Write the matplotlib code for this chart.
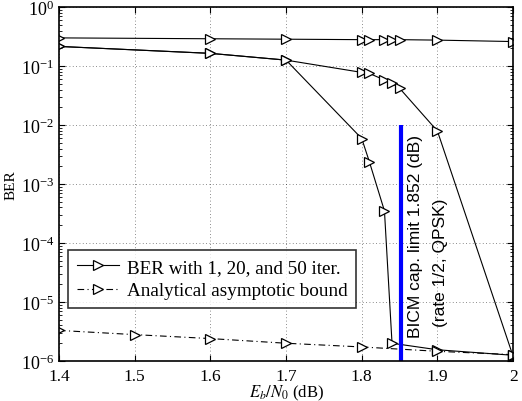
import matplotlib
matplotlib.use("Agg")
import matplotlib.pyplot as plt
from matplotlib.ticker import LogLocator, NullFormatter

# Data
x_iter1 = [1.4, 1.6, 1.7, 1.8, 1.81, 1.83, 1.84, 1.85, 1.9, 2.0]
ber_iter1 = [0.30, 0.29, 0.285, 0.28, 0.28, 0.28, 0.28, 0.28, 0.275, 0.26]

x_iter20 = [1.4, 1.6, 1.7, 1.8, 1.81, 1.83, 1.84, 1.85, 1.9, 2.0]
ber_iter20 = [0.215, 0.164, 0.126, 0.078, 0.075, 0.058, 0.051, 0.042, 0.0079, 1.2e-6]

x_iter50 = [1.4, 1.6, 1.7, 1.8, 1.81, 1.83, 1.84, 1.9, 2.0]
ber_iter50 = [0.215, 0.164, 0.126, 0.0059, 0.0024, 3.5e-4, 2.0e-6, 1.55e-6, 1.25e-6]

x_bound = [1.4, 1.5, 1.6, 1.7, 1.8, 1.9, 2.0]
ber_bound = [3.3e-6, 2.8e-6, 2.4e-6, 2.0e-6, 1.73e-6, 1.46e-6, 1.28e-6]

cap_limit = 1.852
cap_ber_range = [1e-6, 1e-2]

x_ticks = [1.4, 1.5, 1.6, 1.7, 1.8, 1.9, 2.0]
x_ticklabels = ['1.4', '1.5', '1.6', '1.7', '1.8', '1.9', '2']

legend_labels = ["BER with 1, 20, and 50 iter.", "Analytical asymptotic bound"]
cap_text1 = "BICM cap. limit 1.852 (dB)"
cap_text2 = "(rate 1/2, QPSK)"

plt.rcParams['font.family'] = ['Liberation Serif', 'DejaVu Serif']
plt.rcParams['mathtext.fontset'] = 'stix'

fig = plt.figure(figsize=(5.22, 4.02), dpi=100)
ax = fig.add_axes([0.113, 0.0995, 0.870, 0.8805])

mk = dict(marker='>', markerfacecolor='white', markeredgecolor='black',
          markersize=7, markeredgewidth=0.9, color='black', linewidth=0.8)

l1, = ax.semilogy(x_iter1, ber_iter1, '-', **mk)
ax.semilogy(x_iter20, ber_iter20, '-', **mk)
ax.semilogy(x_iter50, ber_iter50, '-', **mk)
l2, = ax.semilogy(x_bound, ber_bound, '-.', dashes=(6, 3, 1, 3), **mk)

ax.plot([cap_limit, cap_limit], cap_ber_range, color='#0000ff', linewidth=3, solid_capstyle='butt')

sans = ['Liberation Sans', 'DejaVu Sans']
ax.annotate(cap_text1, xy=(cap_limit, 1e-6), xytext=(10.5, 17.5), textcoords='offset points',
            rotation=90, ha='center', va='bottom', fontsize=12.5, family=sans,
            xycoords='data', annotation_clip=False)
ax.annotate(cap_text2, xy=(cap_limit, 1e-6), xytext=(28.5, 25), textcoords='offset points',
            rotation=90, ha='center', va='bottom', fontsize=12.5, family=sans,
            xycoords='data', annotation_clip=False)

ax.set_xlim(1.4, 2.0)
ax.set_ylim(1e-6, 1)
ax.set_xticks(x_ticks)
ax.set_xticklabels(x_ticklabels)
ax.yaxis.set_major_locator(LogLocator(base=10, numticks=10))
ax.yaxis.set_minor_locator(LogLocator(base=10, subs=range(2, 10), numticks=10))
ax.yaxis.set_minor_formatter(NullFormatter())
ax.tick_params(which='both', direction='in', top=True, right=True, labelsize=13)
ax.tick_params(which='major', length=4)
ax.tick_params(which='minor', length=2)
ax.tick_params(axis='x', pad=5, labelsize=12.5)
ax.grid(True, which='major', linestyle=(0, (1, 3)), color='black', linewidth=0.6, alpha=0.6)
for s in ax.spines.values():
    s.set_linewidth(1.2)

ax.set_xlabel(r'$E_b/N_0$ (dB)', fontsize=12, labelpad=-0.5)
ax.set_ylabel('BER', fontsize=11, labelpad=2)

leg = ax.legend([l1, l2], legend_labels, loc='lower left', bbox_to_anchor=(0.02, 0.15),
                fontsize=13.8, frameon=True, fancybox=False, edgecolor='black',
                borderpad=0.45, handlelength=2.2, handletextpad=0.4, labelspacing=0.3,
                borderaxespad=0)
leg.get_frame().set_linewidth(1.2)

fig.savefig('out.png', dpi=100)
